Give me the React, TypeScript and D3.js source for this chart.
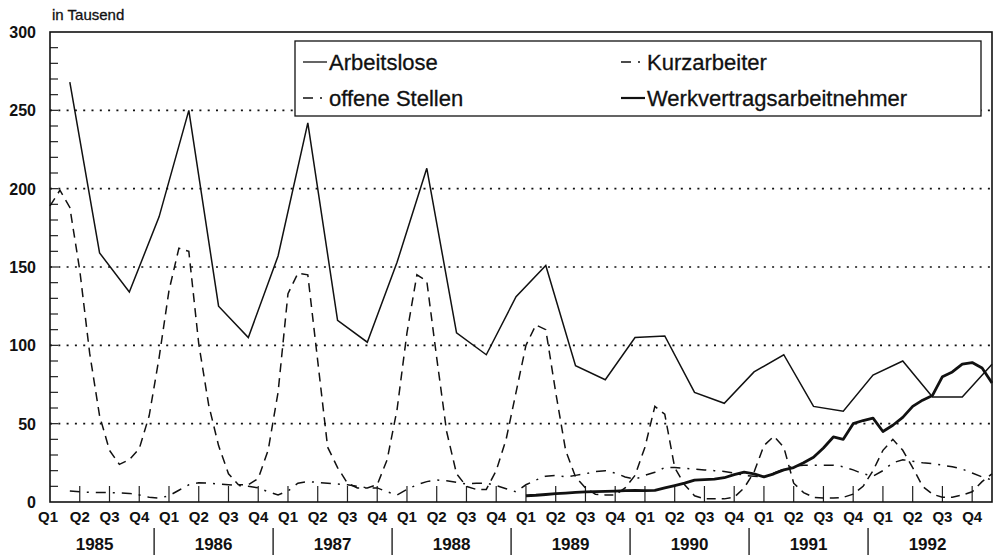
import { useEffect } from "react";
import * as d3 from "d3";

// months are counted from Jan 1985 (index 0) to Dec 1992 (index 95)
const years = ["1985", "1986", "1987", "1988", "1989", "1990", "1991", "1992"];
const quarters = ["Q1", "Q2", "Q3", "Q4"];
const yTicks = [0, 50, 100, 150, 200, 250, 300];

// Arbeitslose: one value per quarter, at the last month of the quarter
const arbeitslose = [
  268, 159, 134, 182,
  250, 125, 105, 157,
  242, 116, 102, 153,
  213, 108, 94, 131,
  151, 87, 78, 105,
  106, 70, 63, 83,
  94, 61, 58, 81,
  90, 67, 67, 88,
];

// offene Stellen: monthly from Jan 1985
const offeneStellen = [
  189, 199, 188, 148, 95, 55, 33, 24, 27, 34, 55, 92,
  135, 162, 160, 101, 62, 36, 18, 11, 11, 15, 33, 70,
  133, 146, 145, 90, 35, 22, 12, 9, 9, 11, 27, 59,
  108, 145, 141, 92, 45, 18, 10, 8, 8, 20, 40, 70,
  100, 113, 110, 70, 33, 16, 9, 5, 4.5, 4.5, 9, 17,
  35, 61, 56, 22, 11, 4, 2, 2, 2, 3, 9, 19,
  36, 42, 35, 12, 6, 3, 2.5, 2.5, 3, 5, 10, 20,
  33, 40, 33, 22, 10, 5, 3, 3, 4.5, 6.5, 13, 18,
];

// Kurzarbeiter: monthly from Mar 1985
const kurzarbeiter = [
  7, 6.5, 6.2, 6, 6, 5.8, 5.5, 4.5, 3, 2.5,
  4, 7.5, 11, 12.3, 12, 11.5, 11, 10.5, 10, 9, 6.5, 4.5,
  7, 12, 13, 12.5, 12, 11.5, 11, 10, 9, 9, 6.5, 4.5,
  8, 11, 13, 14, 13.5, 12.5, 11.5, 12, 12, 10.5, 8.5, 6.5,
  11, 14, 16.5, 17, 16, 17, 18, 19.5, 20, 18.5, 16, 14.5,
  17, 19, 22, 22, 21.5, 21, 20.5, 20, 19.5, 18.5, 17, 16.5,
  16, 18.5, 21, 23, 23.5, 23.5, 23.5, 23.5, 22.5, 20.5, 18, 16.5,
  20, 25, 27, 26, 25, 24.5, 23.5, 22.5, 21, 18.5, 16, 14,
];

// Werkvertragsarbeitnehmer: monthly from Jan 1989
const werkvertrag = [
  4, 4.3, 4.8, 5.3, 5.7, 6.1, 6.4, 6.6, 6.8, 7, 7.2, 7.4,
  7.3, 7.4, 9, 10.5, 12, 14, 14.3, 14.6, 15.5, 17.5, 19, 18,
  16, 18, 20.5, 22, 25, 28.5, 34.5, 41.5, 40, 50, 52, 53.5,
  45, 49, 54, 61, 65, 68, 80, 83, 88, 89, 85.5, 76,
];

const W = 999;
const H = 556;
const left = 50;
const right = 992;
const top = 32;
const bottom = 502;
const font = "'Liberation Sans', Arial, Helvetica, sans-serif";

const App = () => {
  useEffect(() => {
    document.body.style.margin = "0";
  }, []);

  const x = d3.scaleLinear().domain([0, 95]).range([left, right]);
  const y = d3.scaleLinear().domain([0, 300]).range([bottom, top]);

  const line = d3
    .line<[number, number]>()
    .x((d) => x(d[0]))
    .y((d) => y(d[1]));

  const aPts = arbeitslose.map((v, i) => [i * 3 + 2, v] as [number, number]);
  const oPts = offeneStellen.map((v, i) => [i, v] as [number, number]);
  const kPts = kurzarbeiter.map((v, i) => [i + 2, v] as [number, number]);
  const wPts = werkvertrag.map((v, i) => [i + 48, v] as [number, number]);

  const minor = d3.range(10, 300, 10);
  const qTicks = d3.range(3, 95, 3);

  const legend = [
    { label: "Arbeitslose", lx: 303, ty: 62, dash: "", w: 1.3 },
    { label: "offene Stellen", lx: 303, ty: 98, dash: "10,7,2,7", w: 1.4 },
    { label: "Kurzarbeiter", lx: 621, ty: 62, dash: "10,7,2,7", w: 1.4 },
    { label: "Werkvertragsarbeitnehmer", lx: 621, ty: 98, dash: "", w: 2.2 },
  ];

  return (
    <svg width={W} height={H} viewBox={`0 0 ${W} ${H}`} style={{ display: "block", background: "#fff" }} fontFamily={font}>
      {/* dotted grid */}
      {yTicks.filter((t) => t > 0 && t < 300).map((t) => (
        <line key={"g" + t} x1={left} x2={right} y1={y(t)} y2={y(t)} stroke="#111" strokeWidth={1.6} strokeDasharray="2,6.3" />
      ))}

      {/* minor y ticks inside */}
      {minor.map((t) => (
        <line key={"m" + t} x1={left} x2={left + 8} y1={y(t)} y2={y(t)} stroke="#222" strokeWidth={1.2} />
      ))}

      {/* quarter ticks */}
      {qTicks.map((m) => (
        <line key={"q" + m} x1={x(m)} x2={x(m)} y1={bottom} y2={bottom - 16} stroke="#222" strokeWidth={1.2} />
      ))}

      {/* series */}
      <path d={line(oPts) ?? ""} fill="none" stroke="#111" strokeWidth={1.5} strokeDasharray="9,6" />
      <path d={line(kPts) ?? ""} fill="none" stroke="#111" strokeWidth={1.5} strokeDasharray="10,7,2,7" />
      <path d={line(wPts) ?? ""} fill="none" stroke="#111" strokeWidth={2.8} strokeLinejoin="round" />
      <path d={line(aPts) ?? ""} fill="none" stroke="#111" strokeWidth={1.5} />

      {/* frame */}
      <rect x={left} y={top} width={right - left} height={bottom - top} fill="none" stroke="#111" strokeWidth={1.6} />

      {/* legend */}
      <rect x={295} y={41} width={686} height={75} fill="#fff" stroke="#111" strokeWidth={1.3} />
      {legend.map((l) => (
        <g key={l.label}>
          <line x1={l.lx} x2={l.lx + 24} y1={l.ty} y2={l.ty} stroke="#111" strokeWidth={l.w} strokeDasharray={l.dash || undefined} />
          <text x={l.lx + 26} y={l.ty + 8} fontSize={22} fill="#111" stroke="#111" strokeWidth={0.3}>{l.label}</text>
        </g>
      ))}

      {/* y axis labels */}
      <text x={52} y={20} fontSize={15} fill="#111" stroke="#111" strokeWidth={0.3}>in Tausend</text>
      {yTicks.map((t) => (
        <text key={"yl" + t} x={36} y={y(t) + 6} fontSize={16} fontWeight="bold" textAnchor="end" fill="#111">{t}</text>
      ))}

      {/* x axis labels */}
      {d3.range(32).map((i) => (
        <text key={"ql" + i} x={x(i * 3) - (i === 0 ? 2 : 0)} y={522} fontSize={15} fontWeight="bold" textAnchor="middle" fill="#111">
          {quarters[i % 4]}
        </text>
      ))}
      {years.map((yr, j) => (
        <text key={yr} x={x(j * 12 + 4.5)} y={550} fontSize={17} fontWeight="bold" textAnchor="middle" fill="#111">{yr}</text>
      ))}
      {years.slice(0, 7).map((yr, j) => (
        <line key={"s" + yr} x1={x(j * 12 + 10.5)} x2={x(j * 12 + 10.5)} y1={528} y2={555} stroke="#111" strokeWidth={1.3} />
      ))}
    </svg>
  );
};

export default App;
